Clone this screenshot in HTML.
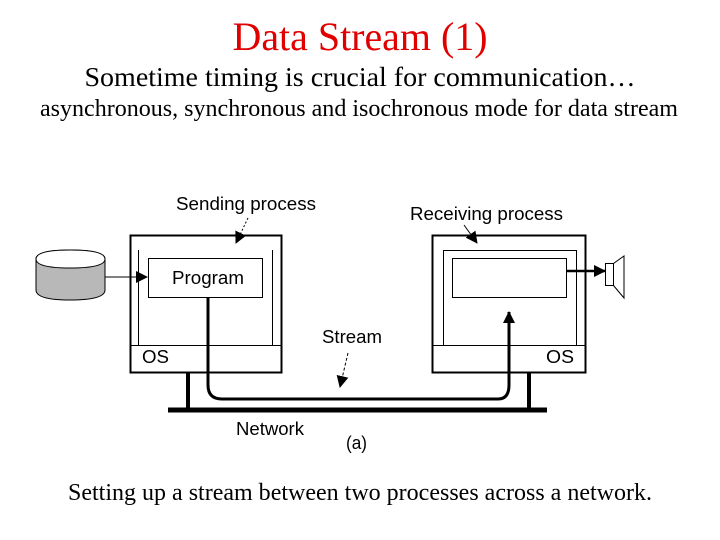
<!DOCTYPE html>
<html><head><style>
body{margin:0;width:720px;height:540px;background:#fff;overflow:hidden}
svg{display:block}
</style></head><body>
<svg width="720" height="540" viewBox="0 0 720 540">
<defs><marker id="b" markerWidth="12" markerHeight="12" refX="11" refY="6" orient="auto" markerUnits="userSpaceOnUse"><path d="M0,0L12,6L0,12z" fill="#000"/></marker></defs>
<g font-family="Liberation Serif, serif" text-anchor="middle">
<text x="360" y="50" font-size="40" fill="#e00000" textLength="255" lengthAdjust="spacingAndGlyphs">Data Stream (1)</text>
<text x="360" y="86" font-size="27" textLength="551" lengthAdjust="spacingAndGlyphs">Sometime timing is crucial for communication…</text>
<text x="359" y="116" font-size="24" textLength="638" lengthAdjust="spacingAndGlyphs">asynchronous, synchronous and isochronous mode for data stream</text>
<text x="360" y="500" font-size="24" textLength="584" lengthAdjust="spacingAndGlyphs">Setting up a stream between two processes across a network.</text>
</g>
<g font-family="Liberation Sans, sans-serif" font-size="18" lengthAdjust="spacingAndGlyphs">
<text x="176" y="210" textLength="140" lengthAdjust="spacingAndGlyphs">Sending process</text>
<text x="410" y="220" textLength="153" lengthAdjust="spacingAndGlyphs">Receiving process</text>
<text x="322" y="343" textLength="60" lengthAdjust="spacingAndGlyphs">Stream</text>
<text x="236" y="435" textLength="68" lengthAdjust="spacingAndGlyphs">Network</text>
<text x="346" y="449" textLength="21" lengthAdjust="spacingAndGlyphs">(a)</text>
<text x="142" y="363" textLength="27" lengthAdjust="spacingAndGlyphs">OS</text>
<text x="546" y="363" textLength="28" lengthAdjust="spacingAndGlyphs">OS</text>
<text x="172" y="284" textLength="72" lengthAdjust="spacingAndGlyphs">Program</text>
</g>
<g fill="none" stroke="#000">
<rect x="130.5" y="235.5" width="151" height="137" stroke-width="2"/>
<line x1="138.5" y1="250" x2="138.5" y2="345"/><line x1="272.5" y1="250" x2="272.5" y2="345"/>
<line x1="130" y1="345.5" x2="281" y2="345.5"/>
<rect x="148.5" y="258.5" width="114" height="39"/>
<rect x="432.5" y="235.5" width="153" height="137" stroke-width="2"/>
<rect x="443.5" y="250.5" width="133" height="95"/>
<line x1="432" y1="345.5" x2="586" y2="345.5"/>
<rect x="452.5" y="258.5" width="114" height="39"/>
<path d="M208 297V385Q208 399 222 399H498Q509 399 509 385V312" stroke-width="3" marker-end="url(#b)"/>
<line x1="168" y1="410" x2="547" y2="410" stroke-width="5"/>
<line x1="188" y1="372" x2="188" y2="410" stroke-width="4"/>
<line x1="529" y1="372" x2="529" y2="410" stroke-width="4"/>
<line x1="105" y1="277" x2="147" y2="277" marker-end="url(#b)"/>
<line x1="566" y1="271" x2="605" y2="271" stroke-width="2.5" marker-end="url(#b)"/>
<rect x="605.5" y="263.5" width="8" height="22"/>
<path d="M613.5 263.5L624 256V298L613.5 285.5"/>
<line x1="248" y1="218" x2="236" y2="243" stroke-dasharray="2,2" marker-end="url(#b)"/>
<line x1="464" y1="225" x2="477" y2="243" marker-end="url(#b)"/>
<line x1="348" y1="353" x2="340" y2="387" stroke-dasharray="3,2" marker-end="url(#b)"/>
</g>
<path d="M36 259V290Q36 300 70 300Q105 300 105 290V259Q105 250 70 250Q36 250 36 259Z" fill="#b8b8b8" stroke="#000"/>
<path d="M36 259Q36 250 70 250Q105 250 105 259Q105 268 70 268Q36 268 36 259Z" fill="#fff" stroke="#000"/>
</svg>
</body></html>
